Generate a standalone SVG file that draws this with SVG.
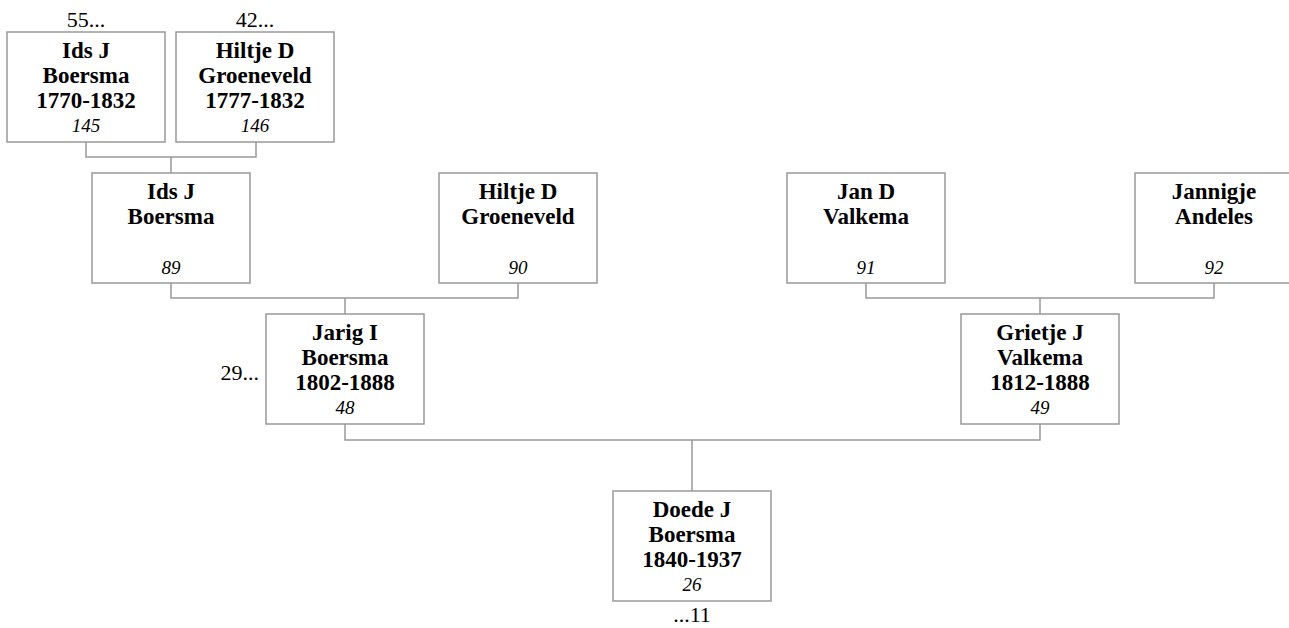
<svg xmlns="http://www.w3.org/2000/svg" width="1289" height="628" viewBox="0 0 1289 628">
<style>
.box{fill:#fff;stroke:#999;stroke-width:1.5}
.ln{fill:none;stroke:#999;stroke-width:1.5}
.nm{font-family:"Liberation Serif","Times New Roman",serif;font-weight:bold;font-size:23px;text-anchor:middle;fill:#000}
.id{font-family:"Liberation Serif","Times New Roman",serif;font-style:italic;font-size:19px;text-anchor:middle;fill:#000}
.lb{font-family:"Liberation Serif","Times New Roman",serif;font-size:22px;fill:#000}
</style>
<rect width="1289" height="628" fill="#fff"/>
<g id="connectors">
<path class="ln" d="M86,142V157H256V142M171,157V173"/>
<path class="ln" d="M171,283V298H518V283M345,298V314"/>
<path class="ln" d="M866,283V298H1214V283M1040,298V314"/>
<path class="ln" d="M345,424V440H1040V424M692,440V491"/>
</g>
<g id="n145">
<rect class="box" x="7" y="32" width="158" height="110"/>
<text class="nm" x="86" y="58">Ids J</text>
<text class="nm" x="86" y="83">Boersma</text>
<text class="nm" x="86" y="108">1770-1832</text>
<text class="id" x="86" y="132">145</text>
<text class="lb" x="86" y="27" text-anchor="middle">55...</text>
</g>
<g id="n146">
<rect class="box" x="176" y="32" width="158" height="110"/>
<text class="nm" x="255" y="58">Hiltje D</text>
<text class="nm" x="255" y="83">Groeneveld</text>
<text class="nm" x="255" y="108">1777-1832</text>
<text class="id" x="255" y="132">146</text>
<text class="lb" x="255" y="27" text-anchor="middle">42...</text>
</g>
<g id="n89">
<rect class="box" x="92" y="173" width="158" height="110"/>
<text class="nm" x="171" y="199">Ids J</text>
<text class="nm" x="171" y="224">Boersma</text>
<text class="id" x="171" y="274">89</text>
</g>
<g id="n90">
<rect class="box" x="439" y="173" width="158" height="110"/>
<text class="nm" x="518" y="199">Hiltje D</text>
<text class="nm" x="518" y="224">Groeneveld</text>
<text class="id" x="518" y="274">90</text>
</g>
<g id="n91">
<rect class="box" x="787" y="173" width="158" height="110"/>
<text class="nm" x="866" y="199">Jan D</text>
<text class="nm" x="866" y="224">Valkema</text>
<text class="id" x="866" y="274">91</text>
</g>
<g id="n92">
<rect class="box" x="1135" y="173" width="158" height="110"/>
<text class="nm" x="1214" y="199">Jannigje</text>
<text class="nm" x="1214" y="224">Andeles</text>
<text class="id" x="1214" y="274">92</text>
</g>
<g id="n48">
<rect class="box" x="266" y="314" width="158" height="110"/>
<text class="nm" x="345" y="340">Jarig I</text>
<text class="nm" x="345" y="365">Boersma</text>
<text class="nm" x="345" y="390">1802-1888</text>
<text class="id" x="345" y="414">48</text>
<text class="lb" x="259" y="380" text-anchor="end">29...</text>
</g>
<g id="n49">
<rect class="box" x="961" y="314" width="158" height="110"/>
<text class="nm" x="1040" y="340">Grietje J</text>
<text class="nm" x="1040" y="365">Valkema</text>
<text class="nm" x="1040" y="390">1812-1888</text>
<text class="id" x="1040" y="414">49</text>
</g>
<g id="n26">
<rect class="box" x="613" y="491" width="158" height="110"/>
<text class="nm" x="692" y="517">Doede J</text>
<text class="nm" x="692" y="542">Boersma</text>
<text class="nm" x="692" y="567">1840-1937</text>
<text class="id" x="692" y="591">26</text>
<text class="lb" x="692" y="622" text-anchor="middle">...11</text>
</g>
</svg>
